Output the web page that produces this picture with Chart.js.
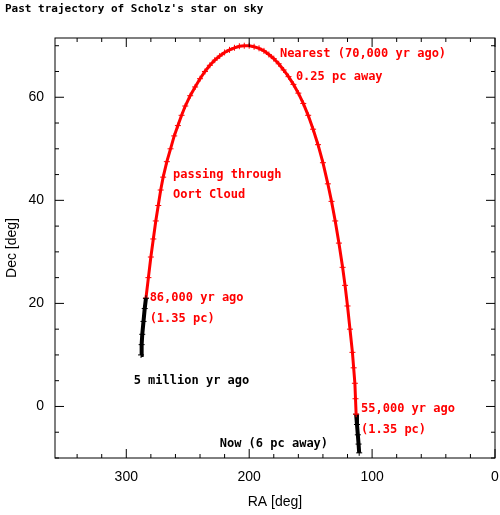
<!DOCTYPE html>
<html><head><script src="https://cdn.jsdelivr.net/npm/chart.js"></script>
<style>body{margin:0;background:#fff}#w{width:500px;height:515px}</style></head>
<body><div id="w"><canvas id="c"></canvas></div>
<script>
const blackStartRA=[288,287.5,287,286,285,284];
const blackStartDec=[10,12,14,16.5,19,21];
const redRA=[284,282,280,278,276,274,272,270,267,264,261,258,255,252,248,244,240,236,232,228,224,220,216,212,208,204,200,196,192,188,184,180,176,172,168,164,160,156,152,148,144,140,136,133,130,127,124,122,120,118,116,115,114,113.5,113];
const redDec=[21,25,29,32.5,36,39,42,44.5,47.5,50,52.5,54.5,56.5,58.3,60.3,62,63.6,65,66.2,67.2,68,68.7,69.2,69.6,69.9,70,70,69.8,69.5,69,68.3,67.5,66.5,65.3,64,62.5,60.8,58.8,56.5,53.8,50.8,47.3,43.2,39.8,36,31.7,27,23.5,19.5,15,10.5,7.5,4.5,1.5,-1.5];
const blackEndRA=[113,112.3,111.6,111,110.5];
const blackEndDec=[-1.5,-3.5,-5.5,-7.3,-9];
const xTicks=[0,100,200,300];
const labels=[
 {t:"Nearest (70,000 yr ago)",x:175,y:68.5,c:"red"},
 {t:"0.25 pc away",x:162,y:64,c:"red"},
 {t:"passing through",x:262,y:45,c:"red"},
 {t:"Oort Cloud",x:262,y:41,c:"red"},
 {t:"86,000 yr ago",x:281,y:21,c:"red"},
 {t:"(1.35 pc)",x:281,y:17,c:"red"},
 {t:"5 million yr ago",x:294,y:5,c:"black"},
 {t:"55,000 yr ago",x:109,y:-0.5,c:"red"},
 {t:"(1.35 pc)",x:109,y:-4.5,c:"red"},
 {t:"Now (6 pc away)",x:224,y:-7.3,c:"black"}];
const xy=(a,b)=>a.map((v,i)=>({x:v,y:b[i]}));
const FONT="'DejaVu Sans Mono'";
const deco={id:'deco',afterDraw(ch){const g=ch.ctx,x=ch.scales.x,y=ch.scales.y,a=ch.chartArea;
 g.save();g.strokeStyle='#000';g.lineWidth=1;g.strokeRect(a.left,a.top,a.right-a.left,a.bottom-a.top);
 g.beginPath();
 for(let v=0;v<=360;v+=20){const p=x.getPixelForValue(v);if(p<a.left||p>a.right)continue;const L=v%100==0?9:4;g.moveTo(p,a.bottom);g.lineTo(p,a.bottom-L);g.moveTo(p,a.top);g.lineTo(p,a.top+L);}
 for(let v=-10;v<=72;v+=5){const p=y.getPixelForValue(v);if(p<a.top||p>a.bottom)continue;const L=v%20==0?9:4;g.moveTo(a.left,p);g.lineTo(a.left+L,p);g.moveTo(a.right,p);g.lineTo(a.right-L,p);}
 g.stroke();
 g.font="bold 12px "+FONT;g.textBaseline='middle';
 labels.forEach(l=>{g.fillStyle=l.c;g.fillText(l.t,x.getPixelForValue(l.x),y.getPixelForValue(l.y));});
 g.fillStyle='#000';g.font="bold 11px "+FONT;g.fillText("Past trajectory of Scholz's star on sky",5,9);
 g.restore();}};
new Chart(document.getElementById('c'),{type:'scatter',
 data:{datasets:[
  {data:xy(blackStartRA,blackStartDec),showLine:true,borderColor:'#000',borderWidth:4,pointStyle:'cross',pointRadius:3,pointBorderColor:'#000',pointBorderWidth:1},
  {data:xy(redRA,redDec),showLine:true,borderColor:'red',borderWidth:3,pointStyle:'cross',pointRadius:3,pointBorderColor:'red',pointBorderWidth:1},
  {data:xy(blackEndRA,blackEndDec),showLine:true,borderColor:'#000',borderWidth:4,pointStyle:'cross',pointRadius:3,pointBorderColor:'#000',pointBorderWidth:1}]},
 options:{responsive:true,maintainAspectRatio:false,animation:false,layout:{padding:{top:38,right:5}},
  plugins:{legend:{display:false},tooltip:{enabled:false}},
  scales:{
   x:{type:'linear',reverse:true,min:0,max:358,grid:{display:false},border:{display:false},
    afterBuildTicks(s){s.ticks=xTicks.map(v=>({value:v}));},
    ticks:{color:'#000',font:{size:14,family:'Liberation Sans'},maxRotation:0},
    title:{display:true,text:'RA [deg]',color:'#000',font:{size:14,family:'Liberation Sans'}},
    afterFit(s){s.height=57;}},
   y:{min:-10,max:71.5,grid:{display:false},border:{display:false},
    ticks:{stepSize:20,color:'#000',font:{size:14,family:'Liberation Sans'},callback:v=>v%20==0?v:''},
    title:{display:true,text:'Dec [deg]',color:'#000',font:{size:14,family:'Liberation Sans'}},
    afterFit(s){s.width=55;}}}},
 plugins:[deco]});
</script></body></html>
